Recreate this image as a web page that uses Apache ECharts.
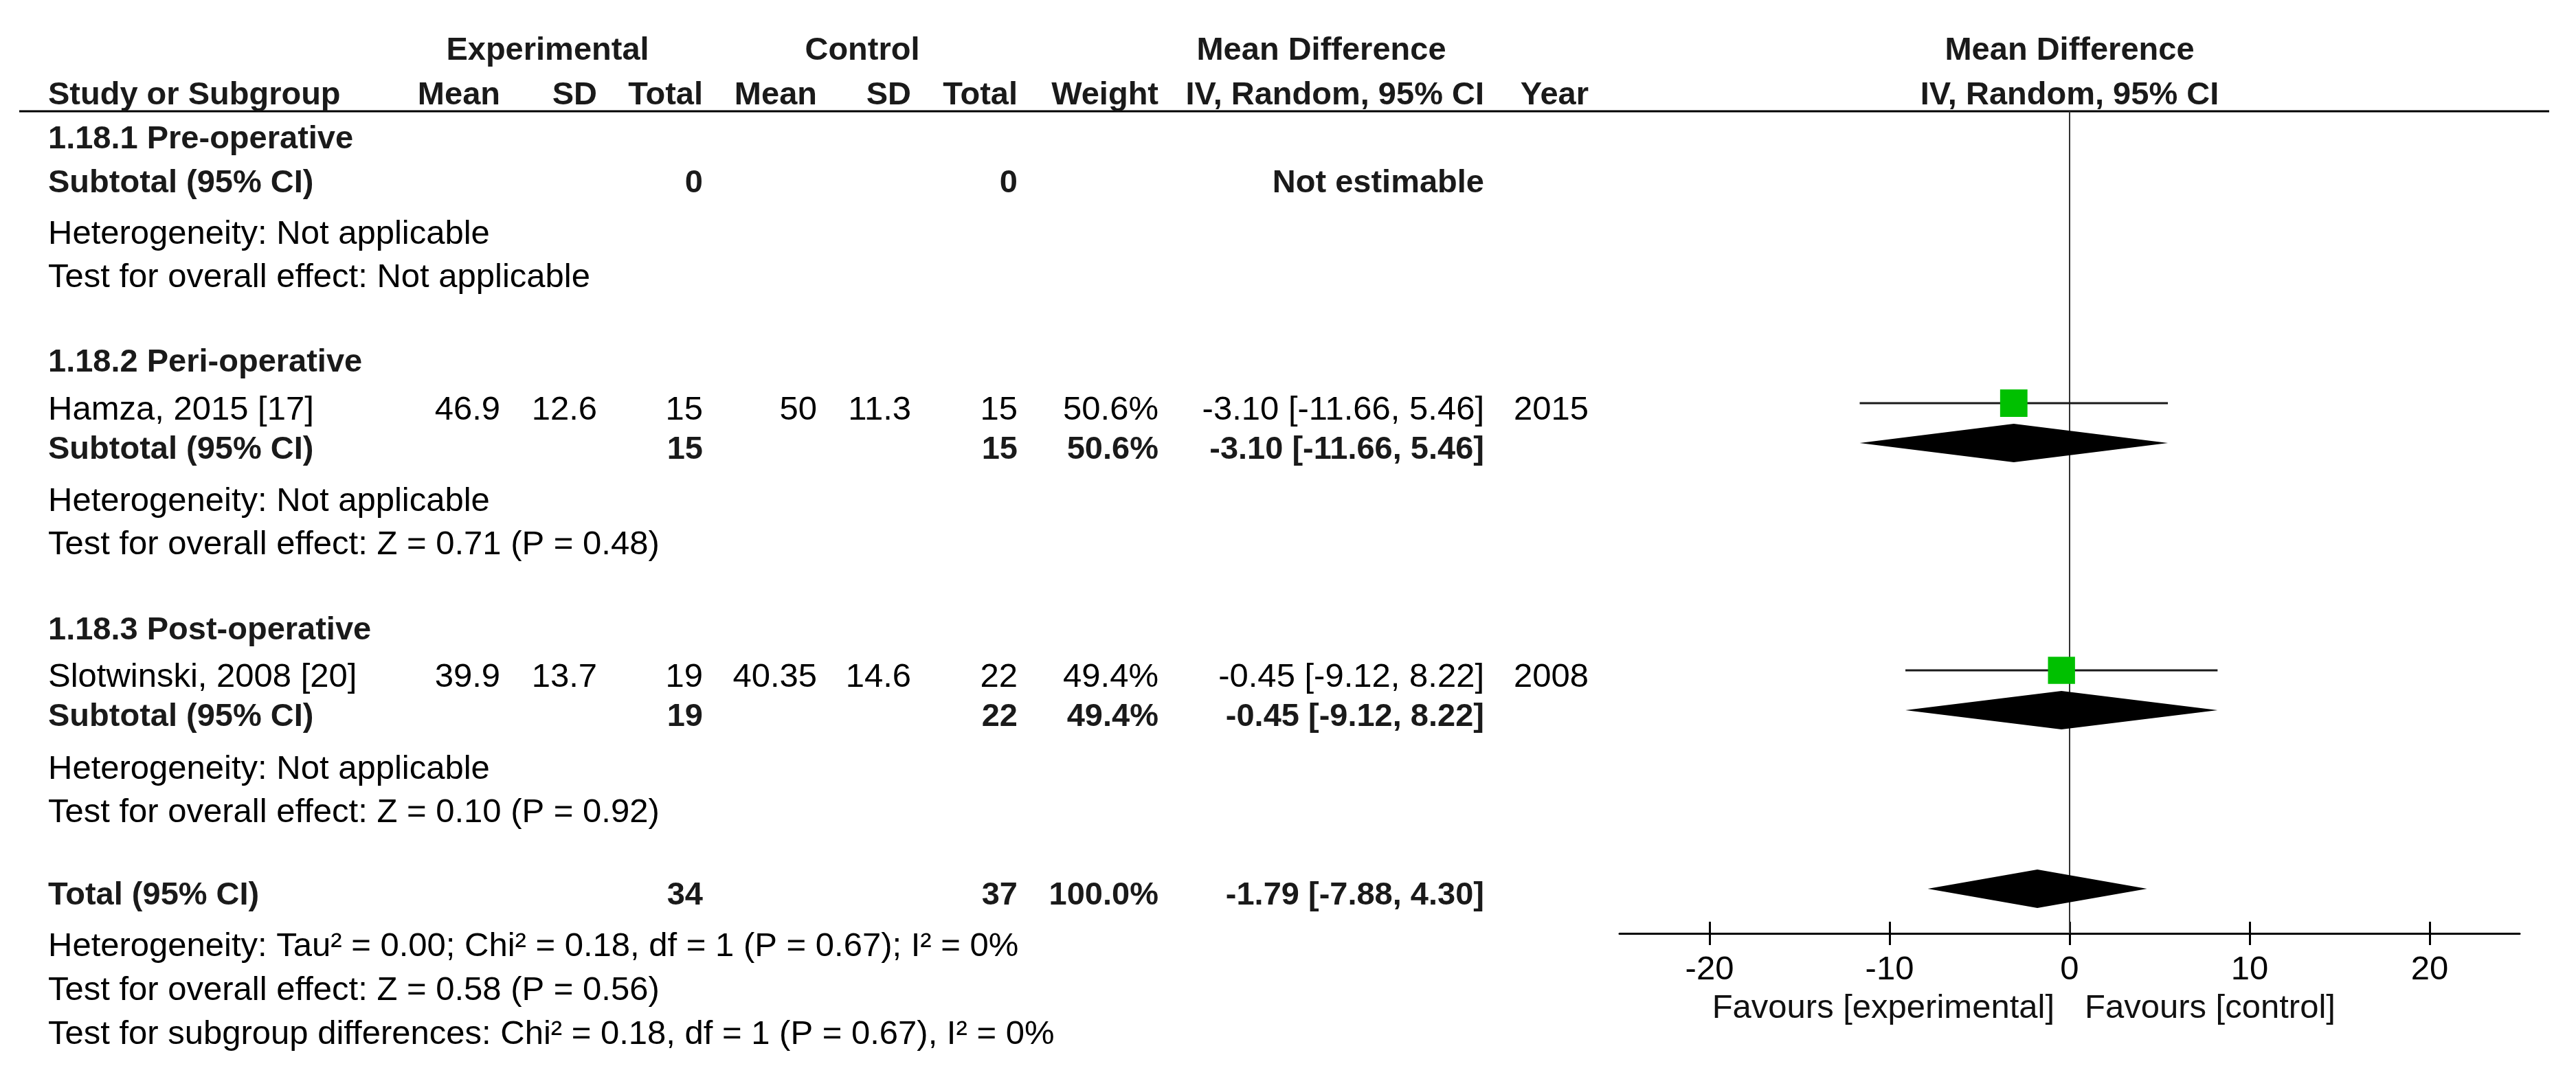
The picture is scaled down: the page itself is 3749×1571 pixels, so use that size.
<!DOCTYPE html>
<html>
<head>
<meta charset="utf-8">
<script src="https://cdn.jsdelivr.net/npm/echarts@6/dist/echarts.min.js"></script>
<style>
html,body{margin:0;padding:0;background:#fff;}
#chart{width:3749px;height:1571px;}
</style>
</head>
<body>
<div id="chart"></div>
<script>
// ---------------- DATA ----------------
const studyNames   = ['Hamza, 2015 [17]', 'Slotwinski, 2008 [20]'];
const expMean      = ['46.9', '39.9'];
const expSD        = ['12.6', '13.7'];
const expTotal     = [15, 19];
const ctrlMean     = ['50', '40.35'];
const ctrlSD       = ['11.3', '14.6'];
const ctrlTotal    = [15, 22];
const studyWeight  = [50.6, 49.4];
const studyMD      = [-3.10, -0.45];
const studyLo      = [-11.66, -9.12];
const studyHi      = [5.46, 8.22];
const studyYear    = [2015, 2008];

const subgroupLabels    = ['1.18.1 Pre-operative', '1.18.2 Peri-operative', '1.18.3 Post-operative'];
const subgroupStudies   = [[], [0], [1]];
const subgroupExpTotal  = [0, 15, 19];
const subgroupCtrlTotal = [0, 15, 22];
const subgroupWeight    = [null, 50.6, 49.4];
const subgroupMD        = [null, -3.10, -0.45];
const subgroupLo        = [null, -11.66, -9.12];
const subgroupHi        = [null, 5.46, 8.22];
const subgroupHet       = ['Heterogeneity: Not applicable', 'Heterogeneity: Not applicable', 'Heterogeneity: Not applicable'];
const subgroupEffect    = ['Test for overall effect: Not applicable', 'Test for overall effect: Z = 0.71 (P = 0.48)', 'Test for overall effect: Z = 0.10 (P = 0.92)'];

const totalExp    = 34;
const totalCtrl   = 37;
const totalWeight = 100.0;
const totalMD     = -1.79;
const totalLo     = -7.88;
const totalHi     = 4.30;
const totalNotes  = [
  'Heterogeneity: Tau\u00B2 = 0.00; Chi\u00B2 = 0.18, df = 1 (P = 0.67); I\u00B2 = 0%',
  'Test for overall effect: Z = 0.58 (P = 0.56)',
  'Test for subgroup differences: Chi\u00B2 = 0.18, df = 1 (P = 0.67), I\u00B2 = 0%'
];

const headerGroups  = ['Experimental', 'Control', 'Mean Difference'];
const headerColumns = ['Study or Subgroup', 'Mean', 'SD', 'Total', 'Mean', 'SD', 'Total', 'Weight', 'IV, Random, 95% CI', 'Year'];
const plotTitle     = ['Mean Difference', 'IV, Random, 95% CI'];
const tickValues    = [-20, -10, 0, 10, 20];
const axisRange     = [-25, 25];
const favoursLabels = ['Favours [experimental]', 'Favours [control]'];

// ---------------- LAYOUT (pixels) ----------------
const FONT = '"Liberation Sans", Arial, sans-serif';
const FS = 49;        // regular text
const FSB = 47;       // bold text
const colX = { name: 70, expMean: 728, expSD: 869, expTotal: 1023, ctrlMean: 1189, ctrlSD: 1326, ctrlTotal: 1481, weight: 1686, md: 2160, year: 2312 };
const groupCenters = [797, 1255, 1923];
const headerY = [74, 139];
const groupRows = [
  { label: 203, studies: [],    subtotal: 267,  het: 341,  eff: 404 },
  { label: 528, studies: [597], subtotal: 655,  het: 730,  eff: 793 },
  { label: 918, studies: [986], subtotal: 1044, het: 1120, eff: 1183 }
];
const totalRowY = 1304;
const totalNoteY = [1378, 1442, 1506];
const lineY = 162;           // header rule & top of plot
const axisY = 1359;          // x axis position
const plotLeft = 2357, plotWidth = 1310;
const markerShift = 10;
const diamondH = 56;

// ---------------- BUILD ----------------
const fmtMD = (m, lo, hi) => m.toFixed(2) + ' [' + lo.toFixed(2) + ', ' + hi.toFixed(2) + ']';
const texts = [];
function T(text, x, y, align, bold) { texts.push({ text: String(text), x, y, align: align || 'left', bold: !!bold }); }

// headers
headerGroups.forEach((h, i) => T(h, groupCenters[i], headerY[0], 'center', true));
const hdrX = [colX.name, colX.expMean, colX.expSD, colX.expTotal, colX.ctrlMean, colX.ctrlSD, colX.ctrlTotal, colX.weight, colX.md, colX.year];
headerColumns.forEach((h, i) => T(h, hdrX[i], headerY[1], i === 0 ? 'left' : 'right', true));

const studyData = [];
const diamondData = [];
subgroupLabels.forEach((lab, g) => {
  const r = groupRows[g];
  T(lab, colX.name, r.label, 'left', true);
  subgroupStudies[g].forEach((si, k) => {
    const y = r.studies[k];
    T(studyNames[si], colX.name, y);
    T(expMean[si], colX.expMean, y, 'right');
    T(expSD[si], colX.expSD, y, 'right');
    T(expTotal[si], colX.expTotal, y, 'right');
    T(ctrlMean[si], colX.ctrlMean, y, 'right');
    T(ctrlSD[si], colX.ctrlSD, y, 'right');
    T(ctrlTotal[si], colX.ctrlTotal, y, 'right');
    T(studyWeight[si].toFixed(1) + '%', colX.weight, y, 'right');
    T(fmtMD(studyMD[si], studyLo[si], studyHi[si]), colX.md, y, 'right');
    T(studyYear[si], colX.year, y, 'right');
    studyData.push([studyMD[si], studyLo[si], studyHi[si], y - markerShift, studyWeight[si]]);
  });
  T('Subtotal (95% CI)', colX.name, r.subtotal, 'left', true);
  T(subgroupExpTotal[g], colX.expTotal, r.subtotal, 'right', true);
  T(subgroupCtrlTotal[g], colX.ctrlTotal, r.subtotal, 'right', true);
  if (subgroupMD[g] === null) {
    T('Not estimable', colX.md, r.subtotal, 'right', true);
  } else {
    T(subgroupWeight[g].toFixed(1) + '%', colX.weight, r.subtotal, 'right', true);
    T(fmtMD(subgroupMD[g], subgroupLo[g], subgroupHi[g]), colX.md, r.subtotal, 'right', true);
    diamondData.push([subgroupMD[g], subgroupLo[g], subgroupHi[g], r.subtotal - markerShift]);
  }
  T(subgroupHet[g], colX.name, r.het);
  T(subgroupEffect[g], colX.name, r.eff);
});
T('Total (95% CI)', colX.name, totalRowY, 'left', true);
T(totalExp, colX.expTotal, totalRowY, 'right', true);
T(totalCtrl, colX.ctrlTotal, totalRowY, 'right', true);
T(totalWeight.toFixed(1) + '%', colX.weight, totalRowY, 'right', true);
T(fmtMD(totalMD, totalLo, totalHi), colX.md, totalRowY, 'right', true);
diamondData.push([totalMD, totalLo, totalHi, totalRowY - markerShift]);
totalNotes.forEach((n, i) => T(n, colX.name, totalNoteY[i]));

const plotCenter = plotLeft + plotWidth / 2;
T(plotTitle[0], plotCenter, headerY[0], 'center', true);
T(plotTitle[1], plotCenter, headerY[1], 'center', true);

const textGraphics = texts.map(t => ({
  type: 'text', x: t.x, y: t.y, silent: true,
  style: { text: t.text, fill: t.bold ? '#1a1a1a' : '#000', font: (t.bold ? 'bold ' + FSB : FS) + 'px ' + FONT, align: t.align, verticalAlign: 'middle' }
}));

const chart = echarts.init(document.getElementById('chart'), null, { renderer: 'canvas' });
const baseAxis = {
  type: 'value', min: axisRange[0], max: axisRange[1], position: 'bottom', offset: 0,
  splitLine: { show: false }
};
chart.setOption({
  animation: false,
  backgroundColor: '#fff',
  grid: { left: plotLeft, top: lineY, width: plotWidth, height: axisY - lineY, containLabel: false },
  xAxis: [
    Object.assign({}, baseAxis, {
      axisLine: { show: true, lineStyle: { color: '#000', width: 3 } },
      axisTick: { show: true, inside: false, length: 17, customValues: tickValues, lineStyle: { color: '#000', width: 3 } },
      axisLabel: { show: true, customValues: tickValues, margin: 29, fontSize: FS, fontFamily: FONT, color: '#000' }
    }),
    Object.assign({}, baseAxis, {
      axisLine: { show: false },
      axisTick: { show: true, inside: true, length: 17, customValues: tickValues, lineStyle: { color: '#000', width: 3 } },
      axisLabel: { show: false }
    })
  ],
  yAxis: { type: 'value', min: lineY, max: axisY, inverse: true, show: false },
  series: [
    {
      type: 'line', xAxisIndex: 0, yAxisIndex: 0, z: 1, symbol: 'none', silent: true,
      lineStyle: { color: '#333', width: 2 },
      data: [[0, lineY], [0, axisY]]
    },
    {
      type: 'custom', xAxisIndex: 0, yAxisIndex: 0, z: 3, silent: true,
      renderItem: function (params, api) {
        const y = api.value(3);
        const lo = api.coord([api.value(1), y]);
        const hi = api.coord([api.value(2), y]);
        const c = api.coord([api.value(0), y]);
        const s = 56 * Math.sqrt(api.value(4) / 100);
        return { type: 'group', children: [
          { type: 'line', shape: { x1: lo[0], y1: lo[1], x2: hi[0], y2: hi[1] }, style: { stroke: '#1a1a1a', lineWidth: 3 } },
          { type: 'rect', shape: { x: c[0] - s / 2, y: c[1] - s / 2, width: s, height: s }, style: { fill: '#00c000' } }
        ] };
      },
      data: studyData
    },
    {
      type: 'custom', xAxisIndex: 0, yAxisIndex: 0, z: 3, silent: true,
      renderItem: function (params, api) {
        const y = api.value(3);
        const lo = api.coord([api.value(1), y]);
        const hi = api.coord([api.value(2), y]);
        const c = api.coord([api.value(0), y]);
        return { type: 'polygon', shape: { points: [[lo[0], lo[1]], [c[0], c[1] - diamondH / 2], [hi[0], hi[1]], [c[0], c[1] + diamondH / 2]] }, style: { fill: '#000' } };
      },
      data: diamondData
    }
  ]
});

const zeroX = chart.convertToPixel({ xAxisIndex: 0 }, 0);
const favY = 1468;
chart.setOption({
  graphic: [
    { type: 'line', silent: true, shape: { x1: 28, y1: lineY, x2: 3710, y2: lineY }, style: { stroke: '#000', lineWidth: 3 } },
    { type: 'text', x: zeroX - 22, y: favY, silent: true, style: { text: favoursLabels[0], fill: '#111', font: FS + 'px ' + FONT, align: 'right', verticalAlign: 'middle' } },
    { type: 'text', x: zeroX + 22, y: favY, silent: true, style: { text: favoursLabels[1], fill: '#111', font: FS + 'px ' + FONT, align: 'left', verticalAlign: 'middle' } }
  ].concat(textGraphics)
});
</script>
</body>
</html>
